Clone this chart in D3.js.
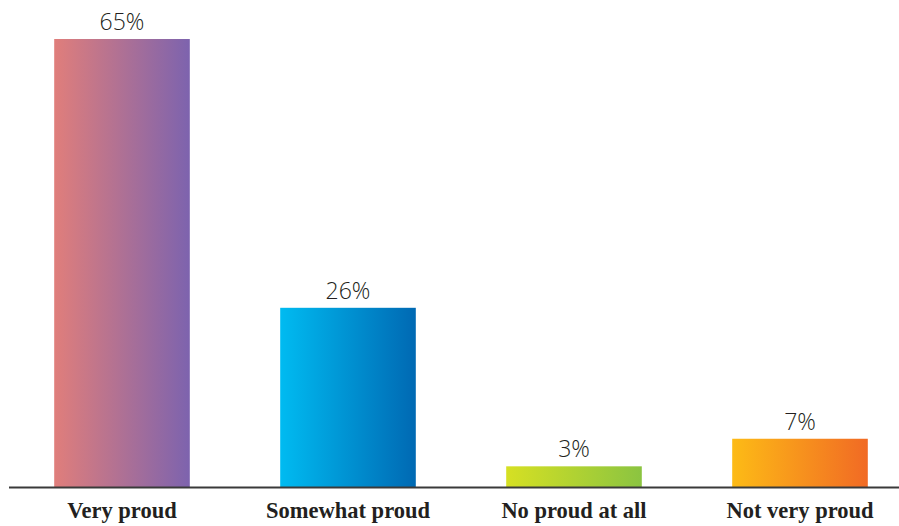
<!DOCTYPE html>
<html>
<head>
<meta charset="utf-8">
<script src="https://cdn.jsdelivr.net/npm/d3@7"></script>
<style>
  html, body { margin: 0; padding: 0; background: #fff; }
  svg { display: block; }
</style>
</head>
<body>
<svg id="chart" width="899" height="526"></svg>
<script>
const categories = ["Very proud", "Somewhat proud", "No proud at all", "Not very proud"];
const values = [65, 26, 3, 7];
const valueLabels = ["65%", "26%", "3%", "7%"];
const gradientStops = [
  ["#E07E7B", "#7D63AE"],
  ["#00BBF1", "#0069B3"],
  ["#D6E023", "#8BC441"],
  ["#FDBB16", "#F16A24"]
];

const svg = d3.select("#chart");
const baseY = 487;

const x = d3.scaleBand()
  .domain(categories)
  .range([9, 913])
  .paddingInner(0.4)
  .paddingOuter(0.2);

const y = d3.scaleLinear()
  .domain([0, 65])
  .range([baseY, 39]);

const defs = svg.append("defs");
categories.forEach((c, i) => {
  const g = defs.append("linearGradient")
    .attr("id", "grad" + i)
    .attr("x1", "0%").attr("x2", "100%")
    .attr("y1", "0%").attr("y2", "0%");
  g.append("stop").attr("offset", "0%").attr("stop-color", gradientStops[i][0]);
  g.append("stop").attr("offset", "100%").attr("stop-color", gradientStops[i][1]);
});

svg.selectAll("rect.bar")
  .data(values)
  .enter().append("rect")
  .attr("class", "bar")
  .attr("x", (d, i) => x(categories[i]))
  .attr("y", d => y(d))
  .attr("width", x.bandwidth())
  .attr("height", d => baseY - y(d))
  .attr("fill", (d, i) => `url(#grad${i})`);

// baseline axis
svg.append("line")
  .attr("x1", 9).attr("x2", 899)
  .attr("y1", baseY + 0.5).attr("y2", baseY + 0.5)
  .attr("stroke", "#3a3a3a")
  .attr("stroke-width", 2);

svg.selectAll("text.val")
  .data(values)
  .enter().append("text")
  .attr("class", "val")
  .attr("x", (d, i) => x(categories[i]) + x.bandwidth() / 2)
  .attr("y", d => y(d) - 9)
  .attr("text-anchor", "middle")
  .attr("font-family", "'Open Sans', sans-serif")
  .attr("font-weight", 300)
  .attr("font-size", 23)
  .attr("fill", "#231f20")
  .text((d, i) => valueLabels[i]);

svg.selectAll("text.cat")
  .data(categories)
  .enter().append("text")
  .attr("class", "cat")
  .attr("x", d => x(d) + x.bandwidth() / 2)
  .attr("y", 518)
  .attr("text-anchor", "middle")
  .attr("font-family", "'Liberation Serif', 'Times New Roman', serif")
  .attr("font-weight", "bold")
  .attr("font-size", 22.5)
  .attr("fill", "#231f20")
  .text(d => d);
</script>
</body>
</html>
